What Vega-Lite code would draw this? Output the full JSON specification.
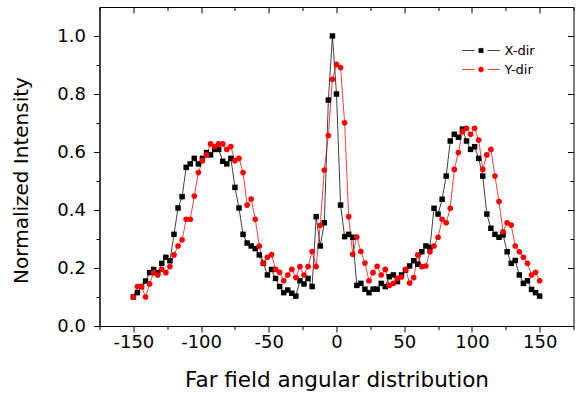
{
  "$schema": "https://vega.github.io/schema/vega-lite/v6.json",
  "width": 474,
  "height": 319,
  "autosize": "none",
  "padding": {"left": 99.5, "top": 7, "right": 6.5, "bottom": 69},
  "background": "white",
  "config": {"view": {"stroke": "#000", "strokeWidth": 1}},
  "data": {"values": [
    {"angle": -150, "X-dir": 0.100, "Y-dir": 0.100},
    {"angle": -147, "X-dir": 0.115, "Y-dir": 0.136},
    {"angle": -144, "X-dir": 0.136, "Y-dir": 0.136},
    {"angle": -141, "X-dir": 0.155, "Y-dir": 0.100},
    {"angle": -138, "X-dir": 0.184, "Y-dir": 0.145},
    {"angle": -135, "X-dir": 0.195, "Y-dir": 0.184},
    {"angle": -132, "X-dir": 0.184, "Y-dir": 0.176},
    {"angle": -129, "X-dir": 0.216, "Y-dir": 0.195},
    {"angle": -126, "X-dir": 0.237, "Y-dir": 0.184},
    {"angle": -123, "X-dir": 0.225, "Y-dir": 0.205},
    {"angle": -120, "X-dir": 0.316, "Y-dir": 0.245},
    {"angle": -117, "X-dir": 0.407, "Y-dir": 0.276},
    {"angle": -114, "X-dir": 0.446, "Y-dir": 0.297},
    {"angle": -111, "X-dir": 0.547, "Y-dir": 0.368},
    {"angle": -108, "X-dir": 0.559, "Y-dir": 0.368},
    {"angle": -105, "X-dir": 0.578, "Y-dir": 0.448},
    {"angle": -102, "X-dir": 0.559, "Y-dir": 0.529},
    {"angle": -99, "X-dir": 0.578, "Y-dir": 0.570},
    {"angle": -96, "X-dir": 0.598, "Y-dir": 0.590},
    {"angle": -93, "X-dir": 0.590, "Y-dir": 0.628},
    {"angle": -90, "X-dir": 0.609, "Y-dir": 0.619},
    {"angle": -87, "X-dir": 0.609, "Y-dir": 0.628},
    {"angle": -84, "X-dir": 0.568, "Y-dir": 0.628},
    {"angle": -81, "X-dir": 0.559, "Y-dir": 0.609},
    {"angle": -78, "X-dir": 0.578, "Y-dir": 0.619},
    {"angle": -75, "X-dir": 0.478, "Y-dir": 0.570},
    {"angle": -72, "X-dir": 0.407, "Y-dir": 0.578},
    {"angle": -69, "X-dir": 0.316, "Y-dir": 0.529},
    {"angle": -66, "X-dir": 0.286, "Y-dir": 0.417},
    {"angle": -63, "X-dir": 0.276, "Y-dir": 0.438},
    {"angle": -60, "X-dir": 0.267, "Y-dir": 0.368},
    {"angle": -57, "X-dir": 0.245, "Y-dir": 0.276},
    {"angle": -54, "X-dir": 0.216, "Y-dir": 0.216},
    {"angle": -51, "X-dir": 0.176, "Y-dir": 0.237},
    {"angle": -48, "X-dir": 0.195, "Y-dir": 0.246},
    {"angle": -45, "X-dir": 0.164, "Y-dir": 0.195},
    {"angle": -42, "X-dir": 0.136, "Y-dir": 0.185},
    {"angle": -39, "X-dir": 0.115, "Y-dir": 0.156},
    {"angle": -36, "X-dir": 0.124, "Y-dir": 0.176},
    {"angle": -33, "X-dir": 0.113, "Y-dir": 0.195},
    {"angle": -30, "X-dir": 0.103, "Y-dir": 0.167},
    {"angle": -27, "X-dir": 0.156, "Y-dir": 0.205},
    {"angle": -24, "X-dir": 0.145, "Y-dir": 0.176},
    {"angle": -21, "X-dir": 0.164, "Y-dir": 0.205},
    {"angle": -18, "X-dir": 0.136, "Y-dir": 0.257},
    {"angle": -15, "X-dir": 0.377, "Y-dir": 0.205},
    {"angle": -12, "X-dir": 0.276, "Y-dir": 0.347},
    {"angle": -9, "X-dir": 0.356, "Y-dir": 0.538},
    {"angle": -6, "X-dir": 0.779, "Y-dir": 0.657},
    {"angle": -3, "X-dir": 1.000, "Y-dir": 0.851},
    {"angle": 0, "X-dir": 0.800, "Y-dir": 0.902},
    {"angle": 3, "X-dir": 0.417, "Y-dir": 0.891},
    {"angle": 6, "X-dir": 0.308, "Y-dir": 0.701},
    {"angle": 9, "X-dir": 0.316, "Y-dir": 0.377},
    {"angle": 12, "X-dir": 0.306, "Y-dir": 0.247},
    {"angle": 15, "X-dir": 0.140, "Y-dir": 0.307},
    {"angle": 18, "X-dir": 0.147, "Y-dir": 0.257},
    {"angle": 21, "X-dir": 0.127, "Y-dir": 0.217},
    {"angle": 24, "X-dir": 0.115, "Y-dir": 0.156},
    {"angle": 27, "X-dir": 0.127, "Y-dir": 0.184},
    {"angle": 30, "X-dir": 0.127, "Y-dir": 0.206},
    {"angle": 33, "X-dir": 0.147, "Y-dir": 0.176},
    {"angle": 36, "X-dir": 0.136, "Y-dir": 0.195},
    {"angle": 39, "X-dir": 0.170, "Y-dir": 0.140},
    {"angle": 42, "X-dir": 0.176, "Y-dir": 0.147},
    {"angle": 45, "X-dir": 0.153, "Y-dir": 0.164},
    {"angle": 48, "X-dir": 0.176, "Y-dir": 0.169},
    {"angle": 51, "X-dir": 0.193, "Y-dir": 0.195},
    {"angle": 54, "X-dir": 0.207, "Y-dir": 0.148},
    {"angle": 57, "X-dir": 0.225, "Y-dir": 0.167},
    {"angle": 60, "X-dir": 0.213, "Y-dir": 0.245},
    {"angle": 63, "X-dir": 0.256, "Y-dir": 0.205},
    {"angle": 66, "X-dir": 0.276, "Y-dir": 0.207},
    {"angle": 69, "X-dir": 0.271, "Y-dir": 0.256},
    {"angle": 72, "X-dir": 0.406, "Y-dir": 0.276},
    {"angle": 75, "X-dir": 0.386, "Y-dir": 0.306},
    {"angle": 78, "X-dir": 0.437, "Y-dir": 0.368},
    {"angle": 81, "X-dir": 0.517, "Y-dir": 0.356},
    {"angle": 84, "X-dir": 0.638, "Y-dir": 0.406},
    {"angle": 87, "X-dir": 0.661, "Y-dir": 0.540},
    {"angle": 90, "X-dir": 0.651, "Y-dir": 0.598},
    {"angle": 93, "X-dir": 0.679, "Y-dir": 0.670},
    {"angle": 96, "X-dir": 0.638, "Y-dir": 0.682},
    {"angle": 99, "X-dir": 0.609, "Y-dir": 0.661},
    {"angle": 102, "X-dir": 0.618, "Y-dir": 0.682},
    {"angle": 105, "X-dir": 0.578, "Y-dir": 0.641},
    {"angle": 108, "X-dir": 0.517, "Y-dir": 0.540},
    {"angle": 111, "X-dir": 0.386, "Y-dir": 0.590},
    {"angle": 114, "X-dir": 0.337, "Y-dir": 0.609},
    {"angle": 117, "X-dir": 0.316, "Y-dir": 0.517},
    {"angle": 120, "X-dir": 0.306, "Y-dir": 0.429},
    {"angle": 123, "X-dir": 0.314, "Y-dir": 0.325},
    {"angle": 126, "X-dir": 0.256, "Y-dir": 0.356},
    {"angle": 129, "X-dir": 0.216, "Y-dir": 0.348},
    {"angle": 132, "X-dir": 0.226, "Y-dir": 0.276},
    {"angle": 135, "X-dir": 0.176, "Y-dir": 0.256},
    {"angle": 138, "X-dir": 0.147, "Y-dir": 0.237},
    {"angle": 141, "X-dir": 0.156, "Y-dir": 0.216},
    {"angle": 144, "X-dir": 0.126, "Y-dir": 0.176},
    {"angle": 147, "X-dir": 0.115, "Y-dir": 0.185},
    {"angle": 150, "X-dir": 0.103, "Y-dir": 0.156}
  ]},
  "transform": [{"fold": ["X-dir", "Y-dir"], "as": ["series", "intensity"]}],
  "layer": [
    {
      "mark": {"type": "line", "strokeWidth": 1, "strokeOpacity": 0.75},
      "encoding": {
        "x": {
          "field": "angle", "type": "quantitative",
          "scale": {"domain": [-175, 175], "nice": false, "zero": false},
          "axis": {
            "orient": "bottom",
            "values": [-175, -150, -125, -100, -75, -50, -25, 0, 25, 50, 75, 100, 125, 150, 175],
            "tickSize": {"condition": {"test": "datum.value % 50 === 0", "value": 6}, "value": 3.5},
            "labelExpr": "datum.value % 50 === 0 ? '' + datum.value : ''",
            "labelFont": "DejaVu Sans", "labelFontSize": 18, "labelColor": "#000", "labelPadding": 1,
            "labelFlush": false, "labelOverlap": false,
            "title": "Far field angular distribution",
            "titleFont": "DejaVu Sans", "titleFontSize": 21.5, "titleFontWeight": "normal", "titleColor": "#000",
            "titleBaseline": "alphabetic", "titleAlign": "center", "titleX": 237, "titleY": 60,
            "domainColor": "#000", "tickColor": "#000", "grid": false
          }
        },
        "y": {
          "field": "intensity", "type": "quantitative",
          "scale": {"domain": [0, 1.1], "nice": false},
          "axis": {
            "orient": "left",
            "values": [0, 0.1, 0.2, 0.3, 0.4, 0.5, 0.6, 0.7, 0.8, 0.9, 1.0],
            "tickSize": {"condition": {"test": "round(datum.value * 10) % 2 === 0", "value": 6}, "value": 3.5},
            "labelExpr": "round(datum.value * 10) % 2 === 0 ? format(datum.value, '.1f') : ''",
            "labelFont": "DejaVu Sans", "labelFontSize": 18, "labelColor": "#000", "labelPadding": 8,
            "labelFlush": false, "labelOverlap": false,
            "title": "Normalized Intensity",
            "titleFont": "DejaVu Sans", "titleFontSize": 20, "titleFontWeight": "normal", "titleColor": "#000",
            "titleBaseline": "alphabetic", "titleAlign": "center", "titleAngle": -90, "titleX": -72, "titleY": 173,
            "domainColor": "#000", "tickColor": "#000", "grid": false
          }
        },
        "color": {
          "field": "series", "type": "nominal",
          "scale": {"domain": ["X-dir", "Y-dir"], "range": ["#000000", "#ff0000"]},
          "legend": {
            "orient": "none", "legendX": 362, "legendY": 34,
            "title": null, "padding": 0, "rowPadding": 0, "clipHeight": 19,
            "symbolSize": 1444, "symbolStrokeWidth": 1,
            "labelFont": "DejaVu Sans", "labelFontSize": 13, "labelColor": "#000", "labelOffset": 4,
            "encode": {
              "symbols": {
                "update": {
                  "shape": {"signal": "datum.value === 'X-dir' ? 'M-1,0H-0.34M0.34,0H1M-0.11,-0.11H0.11V0.11H-0.11Z' : 'M-1,0H-0.34M0.34,0H1M-0.13,0A0.13,0.13,0,1,1,0.13,0A0.13,0.13,0,1,1,-0.13,0Z'"},
                  "fill": {"signal": "datum.value === 'X-dir' ? '#000000' : '#ff0000'"},
                  "stroke": {"signal": "datum.value === 'X-dir' ? '#000000' : '#ff0000'"},
                  "strokeWidth": {"value": 1},
                  "strokeOpacity": {"value": 0.75},
                  "fillOpacity": {"value": 1},
                  "opacity": {"value": 1}
                }
              }
            }
          }
        }
      }
    },
    {
      "transform": [{"filter": "datum.series === 'X-dir'"}],
      "mark": {"type": "point", "filled": true, "size": 30, "opacity": 1, "shape": "square"},
      "encoding": {
        "x": {
          "field": "angle", "type": "quantitative",
          "axis": {
            "orient": "top",
            "values": [-175, -150, -125, -100, -75, -50, -25, 0, 25, 50, 75, 100, 125, 150, 175],
            "tickSize": {"condition": {"test": "datum.value % 50 === 0", "value": -6}, "value": -3.5},
            "labels": false, "domain": false, "title": null, "tickColor": "#000", "grid": false
          }
        },
        "y": {
          "field": "intensity", "type": "quantitative",
          "axis": {
            "orient": "right",
            "values": [0, 0.1, 0.2, 0.3, 0.4, 0.5, 0.6, 0.7, 0.8, 0.9, 1.0],
            "tickSize": {"condition": {"test": "round(datum.value * 10) % 2 === 0", "value": -6}, "value": -3.5},
            "labels": false, "domain": false, "title": null, "tickColor": "#000", "grid": false
          }
        },
        "color": {"field": "series", "type": "nominal"}
      }
    },
    {
      "transform": [{"filter": "datum.series === 'Y-dir'"}],
      "mark": {"type": "point", "filled": true, "size": 32, "opacity": 1, "shape": "circle"},
      "encoding": {
        "x": {"field": "angle", "type": "quantitative", "axis": null},
        "y": {"field": "intensity", "type": "quantitative", "axis": null},
        "color": {"field": "series", "type": "nominal"}
      }
    }
  ],
  "resolve": {"axis": {"x": "independent", "y": "independent"}}
}
